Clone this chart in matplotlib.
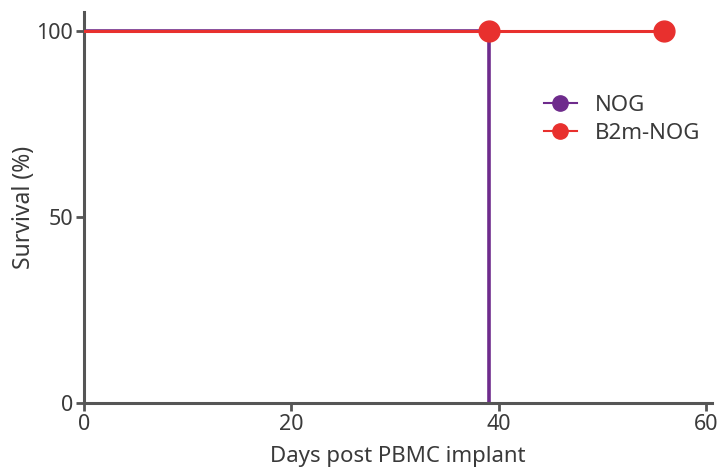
import numpy as np
import matplotlib
matplotlib.use("Agg")
import matplotlib.pyplot as plt

# survival steps
nog_days = [0, 39.1, 39.1]
nog_surv = [100, 100, 0]
b2m_days = [0, 39.1, 56]
b2m_surv = [100, 100, 100]
b2m_censor_days = [39.1, 56]
b2m_censor_surv = [100, 100]

purple = "#6e2b8c"
red = "#e8302e"
grey = "#555555"
txt = "#3a3a3a"

plt.rcParams['font.family'] = ['Noto Sans', 'DejaVu Sans']

fig = plt.figure(figsize=(7.2, 4.7), dpi=100)
ax = fig.add_axes([0.1167, 0.1426, 0.8723, 0.8318])

ax.plot(nog_days, nog_surv, color=purple, lw=2.6, zorder=2)
ax.plot(b2m_days, b2m_surv, color=red, lw=2.2, zorder=3)
ax.plot(b2m_censor_days, b2m_censor_surv, 'o', color=red, ms=15, zorder=4)

# legend handles
ax.plot([], [], color=purple, lw=1.5, marker='o', ms=11, label='NOG')
ax.plot([], [], color=red, lw=1.5, marker='o', ms=11, label='B2m-NOG')
leg = ax.legend(loc='upper left', bbox_to_anchor=(0.7, 0.84), frameon=False,
                fontsize=16, handlelength=1.5, labelspacing=0.32, handletextpad=0.8)
for t in leg.get_texts():
    t.set_color(txt)

ax.set_xlim(0, 60.6)
ax.set_ylim(0, 105)
ax.set_xticks([0, 20, 40, 60])
ax.set_yticks([0, 50, 100])
ax.spines['top'].set_visible(False)
ax.spines['right'].set_visible(False)
for s in ['left', 'bottom']:
    ax.spines[s].set_color(grey)
    ax.spines[s].set_linewidth(2.2)
ax.tick_params(colors=grey, width=2, length=6, labelsize=15.5, labelcolor=txt, pad=2)
ax.set_xlabel('Days post PBMC implant', fontsize=16, color=txt, labelpad=8)
ax.set_ylabel('Survival (%)', fontsize=16.5, color=txt, labelpad=0)

fig.savefig('out.png', dpi=100)
